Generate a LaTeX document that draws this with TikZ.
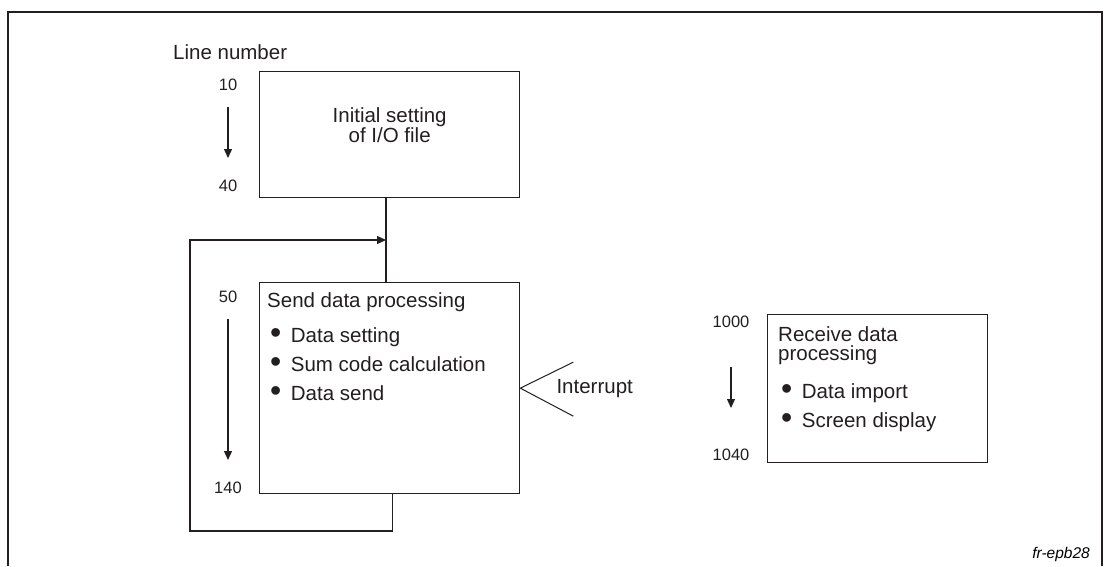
\documentclass[tikz,border=0pt]{standalone}
\usepackage{fontspec}
\setmainfont{Liberation Sans}
\usetikzlibrary{arrows.meta,positioning}
\definecolor{ink}{HTML}{231F20}

\begin{document}
\begin{tikzpicture}[x=1pt,y=-1pt,
  >={Triangle[length=9pt,width=8pt]},
  procbox/.style={draw=ink,line width=1.3pt,inner sep=0pt,anchor=north west},
  body/.style={font=\fontsize{20.5}{19}\selectfont,text=ink,inner sep=0pt},
  item/.style={body,anchor=base west},
  lineno/.style={font=\fontsize{16.5}{20}\selectfont,text=ink,inner sep=0pt},
  wire/.style={draw=ink,line width=1.3pt}]
  \useasboundingbox (0,0) rectangle (1105,566);
  \def\blt{{\fontsize{32}{0}\selectfont\raisebox{-1.5pt}{\textbullet}}\hspace{9.5pt}}
  % -- - outer frame -- -
  \draw[ink,line width=2.6pt] (8,566) |- (1102,12) -- (1102,566);
  % -- - I/O file setting -- -
  \node[body,anchor=base west] (lnum) at (173,59) {Line number};
  \node[procbox,minimum width=260pt,minimum height=126pt] (ioinit) at (259,71) {};
  \node[body,align=center,anchor=north] (iotext) at ([yshift=-36pt]ioinit.north)
    {Initial setting\\of I/O file};
  \node[lineno] (n10) at (228,85) {10};
  \node[lineno] (n40) at (228,186) {40};
  \draw[wire,->] ([yshift=-22pt]n10.center) -- ([yshift=28pt]n40.center);
  % -- - send data processing -- -
  \node[procbox,minimum width=260pt,minimum height=211pt] (sendbox) at (259,282) {};
  \node[item] (sendhead) at ([shift={(8pt,-25pt)}]sendbox.north west) {Send data processing};
  \foreach \t [count=\i] in {Data setting,Sum code calculation,Data send}
    \node[item] (send\i) at ([shift={(11pt,{-60pt-29pt*(\i-1)})}]sendbox.north west) {\blt\t};
  \node[lineno] (n50) at (228,297) {50};
  \node[lineno] (n140) at (228,488) {140};
  \draw[wire,->] ([yshift=-22pt]n50.center) -- ([yshift=28pt]n140.center);
  % loop back
  \coordinate (join) at (386,240);
  \coordinate (loopcorner) at (190,531);
  \draw[wire] (ioinit.south -| join) -- (sendbox.north -| join);
  \draw[wire,->] ([xshift=3pt]sendbox.south) |- (loopcorner) |- (join);
  % -- - interrupt -- -
  \node[body,anchor=west] (irq) at ([xshift=36pt]sendbox.east) {Interrupt};
  \draw[ink,line width=1pt] ([shift={(53pt,26pt)}]sendbox.east) -- (sendbox.east)
    -- ([shift={(53pt,-28pt)}]sendbox.east);
  % -- - receive data processing -- -
  \node[procbox,minimum width=220pt,minimum height=148pt] (recvbox) at (767,314) {};
  \node[body,align=left,anchor=north west] (recvhead) at ([shift={(11pt,-12pt)}]recvbox.north west)
    {Receive data\\processing};
  \foreach \t [count=\i] in {Data import,Screen display}
    \node[item] (recv\i) at ([shift={(14pt,{-84pt-29pt*(\i-1)})}]recvbox.north west) {\blt\t};
  \node[lineno] (n1000) at (731,322) {1000};
  \node[lineno] (n1040) at (731,455) {1040};
  \draw[wire,->] ([yshift=-45pt]n1000.center) -- ([yshift=47pt]n1040.center);
  % -- - figure code -- -
  \node[anchor=base east,font=\itshape\fontsize{15.5}{18}\selectfont,inner sep=0pt] (figid) at (1090,558) {fr-epb28};
\end{tikzpicture}
\end{document}
